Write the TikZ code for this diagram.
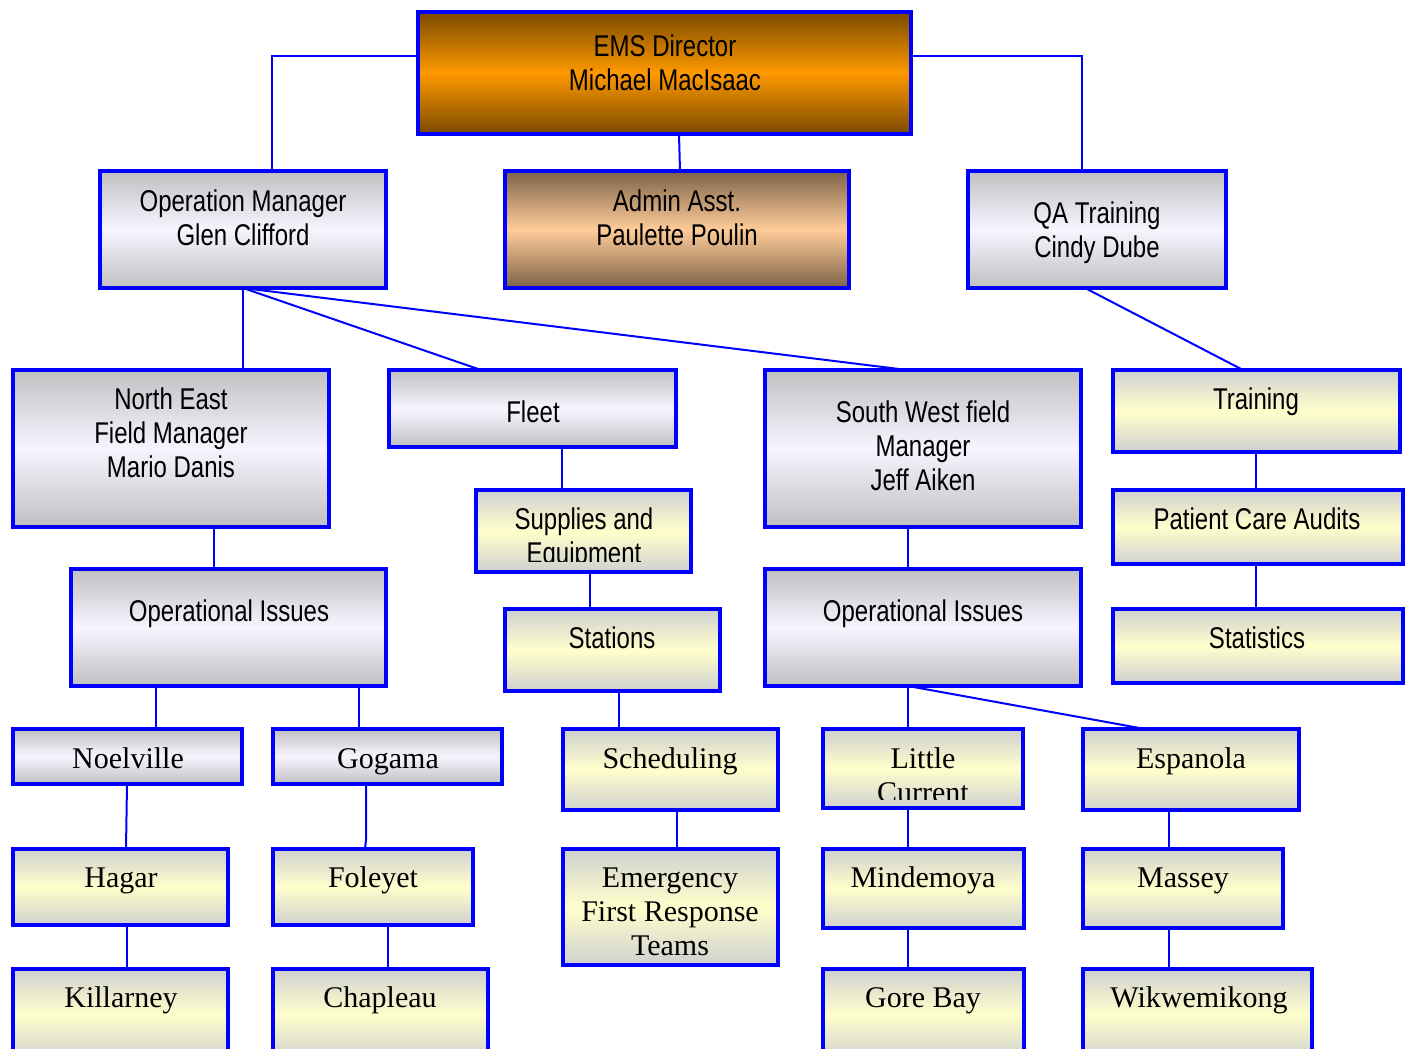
\documentclass[tikz,border=0pt]{standalone}
\usepackage{fontspec}
\setmainfont{Liberation Serif}
\newfontfamily\nsans[FakeStretch=0.8]{Liberation Sans}
\usetikzlibrary{calc}
\definecolor{bblue}{RGB}{0,0,255}
\definecolor{greyedge}{RGB}{192,192,194}
\definecolor{lavmid}{RGB}{247,244,255}
\definecolor{yeledge}{RGB}{208,208,208}
\definecolor{yelmid}{RGB}{255,255,204}
\definecolor{orgedge}{RGB}{122,74,0}
\definecolor{orgmid}{RGB}{255,153,0}
\definecolor{pchedge}{RGB}{125,98,72}
\definecolor{pchmid}{RGB}{255,204,153}
\tikzset{
  every node/.style={inner sep=0pt, outer sep=0pt},
  bxs/.style={draw=bblue, line width=3pt, rectangle},
  greybox/.style={bxs, top color=greyedge, bottom color=greyedge, middle color=lavmid},
  yelbox/.style={bxs, top color=yeledge, bottom color=yeledge, middle color=yelmid},
  orgbox/.style={bxs, top color=orgedge, bottom color=orgedge, middle color=orgmid},
  pchbox/.style={bxs, top color=pchedge, bottom color=pchedge, middle color=pchmid},
  conn/.style={draw=bblue, line width=1.5pt},
  st/.style={font=\nsans\fontsize{22.5}{25.5}\selectfont, align=center, anchor=base},
  sr/.style={font=\fontsize{22.5}{25.5}\selectfont, align=center, anchor=base},
}
% name, style, x1, y1, x2, y2 (outer pixel edges)
\newcommand\orgchartbox[6]{\node[#2, minimum width={(#5-#3-4)*0.75pt}, minimum height={(#6-#4-4)*0.75pt}] (#1) at ({(#3+#5)/2},{(#4+#6)/2}) {};}
\begin{document}
\begin{tikzpicture}[x=0.75pt, y=-0.75pt]
\useasboundingbox (0,0) rectangle (1411,1049);
\clip (0,0) rectangle (1411,1049);
% boxes
\orgchartbox{ems}{orgbox}{416}{10}{913}{136}
\orgchartbox{opm}{greybox}{98}{169}{388}{290}
\orgchartbox{adm}{pchbox}{503}{169}{851}{290}
\orgchartbox{qa}{greybox}{966}{169}{1228}{290}
\orgchartbox{ne}{greybox}{11}{368}{331}{529}
\orgchartbox{fleet}{greybox}{387}{368}{678}{449}
\orgchartbox{sw}{greybox}{763}{368}{1083}{529}
\orgchartbox{trn}{yelbox}{1111}{368}{1402}{454}
\orgchartbox{sup}{yelbox}{474}{488}{693}{574}
\orgchartbox{pca}{yelbox}{1111}{488}{1405}{566}
\orgchartbox{opl}{greybox}{69}{567}{388}{688}
\orgchartbox{sta}{yelbox}{503}{607}{722}{693}
\orgchartbox{opr}{greybox}{763}{567}{1083}{688}
\orgchartbox{stat}{yelbox}{1111}{607}{1405}{685}
\orgchartbox{noel}{greybox}{11}{727}{244}{786}
\orgchartbox{gog}{greybox}{271}{727}{504}{786}
\orgchartbox{sch}{yelbox}{561}{727}{780}{812}
\orgchartbox{lc}{yelbox}{821}{727}{1025}{810}
\orgchartbox{esp}{yelbox}{1081}{727}{1301}{812}
\orgchartbox{hag}{yelbox}{11}{847}{230}{927}
\orgchartbox{fol}{yelbox}{271}{847}{475}{927}
\orgchartbox{efr}{yelbox}{561}{847}{780}{967}
\orgchartbox{mind}{yelbox}{821}{847}{1026}{930}
\orgchartbox{mas}{yelbox}{1081}{847}{1285}{930}
\orgchartbox{kil}{yelbox}{11}{967}{230}{1062}
\orgchartbox{chap}{yelbox}{271}{967}{490}{1062}
\orgchartbox{gore}{yelbox}{821}{967}{1026}{1062}
\orgchartbox{wik}{yelbox}{1081}{967}{1314}{1062}
% texts (base = baseline of last line)
\node[st] (ems-t) at (665,91) {EMS Director\\Michael MacIsaac};
\node[st] (opm-t) at (243,245) {Operation Manager\\Glen Clifford};
\node[st] (adm-t) at (677,245) {Admin Asst.\\Paulette Poulin};
\node[st] (qa-t) at (1097,257) {QA Training\\Cindy Dube};
\node[st] (ne-t) at (171,477) {North East\\Field Manager\\Mario Danis};
\node[st] (fleet-t) at (533,422) {Fleet};
\node[st] (sw-t) at (923,490) {South West field\\Manager\\Jeff Aiken};
\node[st] (trn-t) at (1256,409) {Training};
\begin{scope}
\clip (474,488) rectangle (693,561);
\node[st] (sup-t) at (584,563) {Supplies and\\Equipment};
\end{scope}
\node[st] (pca-t) at (1257,529) {Patient Care Audits};
\node[st] (opl-t) at (229,621) {Operational Issues};
\node[st] (sta-t) at (612,648) {Stations};
\node[st] (opr-t) at (923,621) {Operational Issues};
\node[st] (stat-t) at (1257,648) {Statistics};
\node[sr] (noel-t) at (128,768) {Noelville};
\node[sr] (gog-t) at (388,768) {Gogama};
\node[sr] (sch-t) at (670,768) {Scheduling};
\begin{scope}
\clip (821,727) rectangle (1025,799);
\node[sr] (lc-t) at (923,802) {Little\\Current};
\end{scope}
\node[sr] (esp-t) at (1191,768) {Espanola};
\node[sr] (hag-t) at (121,887) {Hagar};
\node[sr] (fol-t) at (373,887) {Foleyet};
\node[sr] (efr-t) at (670,955) {Emergency\\First Response\\Teams};
\node[sr] (mind-t) at (923,887) {Mindemoya};
\node[sr] (mas-t) at (1183,887) {Massey};
\node[sr] (kil-t) at (121,1007) {Killarney};
\node[sr] (chap-t) at (380,1007) {Chapleau};
\node[sr] (gore-t) at (923,1007) {Gore Bay};
\node[sr] (wik-t) at (1199,1007) {Wikwemikong};
% connectors
\draw[conn] (ems.west |- 0,56) -| (opm.north -| 272,0);
\draw[conn] (ems.east |- 0,56) -| (qa.north -| 1082,0);
\draw[conn] (ems.south -| 679,0) -- (adm.north -| 680,0);
\draw[conn] (opm.south) -- (ne.north -| opm.south);
\draw[conn] (opm.south) -- (fleet.north -| 481,0);
\draw[conn] (opm.south) -- (sw.north -| 907,0);
\draw[conn] (qa.south -| 1085,0) -- (trn.north -| 1243,0);
\draw[conn] (ne.south -| 214,0) -- (opl.north -| 214,0);
\draw[conn] (fleet.south -| 562,0) -- (sup.north -| 562,0);
\draw[conn] (sup.south -| 590,0) -- (sta.north -| 590,0);
\draw[conn] (sta.south -| 619,0) -- (sch.north -| 619,0);
\draw[conn] (sch.south -| 677,0) -- (efr.north -| 677,0);
\draw[conn] (sw.south -| 908,0) -- (opr.north -| 908,0);
\draw[conn] (opr.south -| 908,0) -- (lc.north -| 908,0);
\draw[conn] (opr.south -| 908,0) -- (esp.north -| 1145,0);
\draw[conn] (opl.south -| 156,0) -- (noel.north -| 156,0);
\draw[conn] (opl.south -| 359,0) -- (gog.north -| 359,0);
\draw[conn] (noel.south -| 127,0) -- (hag.north -| 126,0);
\draw[conn] (gog.south -| 366,0) -- (366,840) -- (fol.north -| 365,0);
\draw[conn] (hag.south -| 127,0) -- (kil.north -| 127,0);
\draw[conn] (fol.south -| 388,0) -- (chap.north -| 388,0);
\draw[conn] (lc.south -| 908,0) -- (mind.north -| 908,0);
\draw[conn] (mind.south -| 908,0) -- (gore.north -| 908,0);
\draw[conn] (esp.south -| 1169,0) -- (mas.north -| 1169,0);
\draw[conn] (mas.south -| 1169,0) -- (wik.north -| 1169,0);
\draw[conn] (trn.south -| 1256,0) -- (pca.north -| 1256,0);
\draw[conn] (pca.south -| 1256,0) -- (stat.north -| 1256,0);
\end{tikzpicture}
\end{document}
